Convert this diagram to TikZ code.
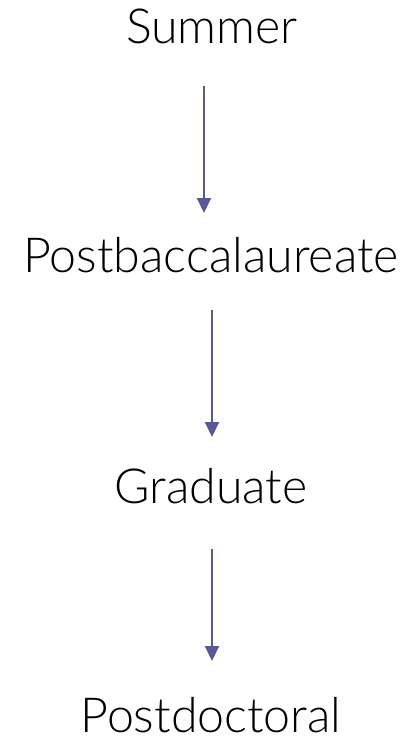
\documentclass[tikz,border=0pt]{standalone}
\usepackage{fontspec}
\setmainfont{Lato}[UprightFont = * Light]
\usetikzlibrary{arrows.meta}
\definecolor{arrowblue}{HTML}{585898}
\begin{document}
\begin{tikzpicture}[x=1pt, y=1pt,
  stage/.style = {anchor=base, inner sep=0pt, font=\fontsize{48.3}{56}\selectfont},
  flow/.style = {draw=arrowblue, line width=2pt, -{Triangle[width=14pt,length=15pt]}, arrowblue}]
\useasboundingbox (0,0) rectangle (409,-740);
\node[stage] (summer)  at (212,-43)  {Summer};
\node[stage] (postbac) at (211,-272) {Postbaccalaureate};
\node[stage] (grad)    at (211,-503) {Graduate};
\node[stage] (postdoc) at (211,-732) {Postdoctoral};

\draw[flow] ([xshift=-8pt,yshift=-43pt]summer.base) -- ([xshift=-7pt,yshift=59pt]postbac.base);
\draw[flow] ([xshift=1pt,yshift=-38pt]postbac.base) -- ([xshift=1pt,yshift=66pt]grad.base);
\draw[flow] ([xshift=1pt,yshift=-46pt]grad.base) -- ([xshift=1pt,yshift=71pt]postdoc.base);
\end{tikzpicture}
\end{document}
